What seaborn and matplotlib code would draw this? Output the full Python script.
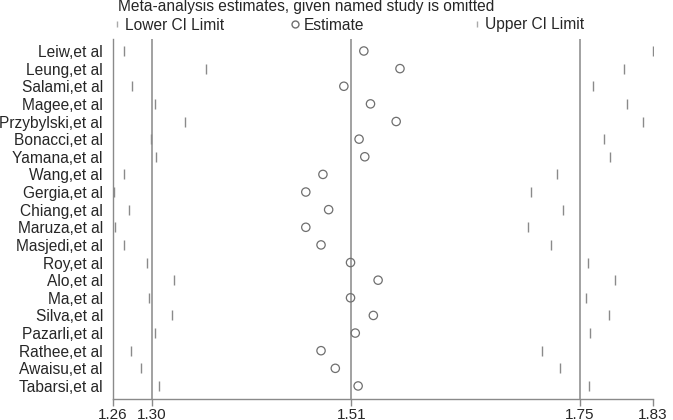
import pandas as pd
import matplotlib.pyplot as plt
from matplotlib.lines import Line2D
import seaborn as sns

studies = ['Leiw,et al', 'Leung,et al', 'Salami,et al', 'Magee,et al', 'Przybylski,et al',
           'Bonacci,et al', 'Yamana,et al', 'Wang,et al', 'Gergia,et al', 'Chiang,et al',
           'Maruza,et al', 'Masjedi,et al', 'Roy,et al', 'Alo,et al', 'Ma,et al',
           'Silva,et al', 'Pazarli,et al', 'Rathee,et al', 'Awaisu,et al', 'Tabarsi,et al']
lower = [1.271, 1.357, 1.279, 1.303, 1.335, 1.299, 1.305, 1.271, 1.260, 1.276,
         1.261, 1.271, 1.295, 1.323, 1.297, 1.321, 1.303, 1.278, 1.289, 1.308]
estimate = [1.523, 1.561, 1.502, 1.530, 1.557, 1.518, 1.524, 1.480, 1.462, 1.486,
            1.462, 1.478, 1.509, 1.538, 1.509, 1.533, 1.514, 1.478, 1.493, 1.517]
upper = [1.827, 1.796, 1.764, 1.800, 1.817, 1.775, 1.782, 1.726, 1.699, 1.732,
         1.696, 1.720, 1.759, 1.787, 1.757, 1.781, 1.761, 1.710, 1.729, 1.760]

# pooled lower / estimate / upper (reference lines)
pooled = [1.30, 1.51, 1.75]
x_range = [1.2593, 1.827]
tick_values = [x_range[0], 1.30, 1.51, 1.75, x_range[1]]
tick_labels = ['1.26', '1.30', '1.51', '1.75', '1.83']

df = pd.DataFrame({'study': studies, 'lower': lower, 'estimate': estimate, 'upper': upper})

sns.set_style('white')
plt.rcParams['font.family'] = ['Liberation Sans', 'DejaVu Sans']
fs = 11.2

fig = plt.figure(figsize=(6.73, 4.2), dpi=100)
ax = fig.add_axes([113/673, 21/420, 540/673, 360/420])

grey = '#8a8a8a'
for v in pooled:
    ax.axvline(v, color='#9a9a9a', lw=1.3, zorder=1)

sns.scatterplot(data=df, x='lower', y='study', marker='|', s=55, color=grey, linewidth=1, ax=ax, zorder=3)
sns.scatterplot(data=df, x='estimate', y='study', marker='o', s=36, facecolor='none',
                edgecolor='#6f6f6f', linewidth=0.9, ax=ax, zorder=3)
sns.scatterplot(data=df, x='upper', y='study', marker='|', s=55, color=grey, linewidth=1, ax=ax, zorder=3)

ax.set_xlim(x_range)
ax.set_ylim(len(studies) - 1 + 0.74, -0.68)
ax.set_xticks(tick_values)
ax.set_xticklabels(tick_labels, fontsize=11)
ax.set_xlabel('')
ax.set_ylabel('')
ax.tick_params(axis='y', length=0, labelsize=fs, pad=7.2)
ax.tick_params(axis='x', length=5, width=1, color=grey, pad=1.5, bottom=True)
sns.despine(ax=ax, top=True, right=True)
for side in ['left', 'bottom']:
    ax.spines[side].set_color(grey)
    ax.spines[side].set_linewidth(1)

fig.text(118/673, 1 - 10.5/420, 'Meta-analysis estimates, given named study is omitted',
         fontsize=fs, ha='left', va='baseline')

# legend items spaced like the original (three separate entries)
leg_items = [
    (Line2D([0], [0], marker='|', color='none', markeredgecolor='#aaaaaa', markersize=5), 'Lower CI Limit', 112),
    (Line2D([0], [0], marker='o', color='none', markerfacecolor='none', markeredgecolor='#6f6f6f',
            markersize=5), 'Estimate', 290.5),
    (Line2D([0], [0], marker='|', color='none', markeredgecolor='#aaaaaa', markersize=5), 'Upper CI Limit', 472),
]
for h, lab, px in leg_items:
    fig.legend([h], [lab], loc='center left', bbox_to_anchor=(px/673, 1 - 25/420), frameon=False,
               fontsize=fs, handlelength=0.6, handletextpad=0.23, borderaxespad=0, borderpad=0)

fig.savefig('out.png', dpi=100)
